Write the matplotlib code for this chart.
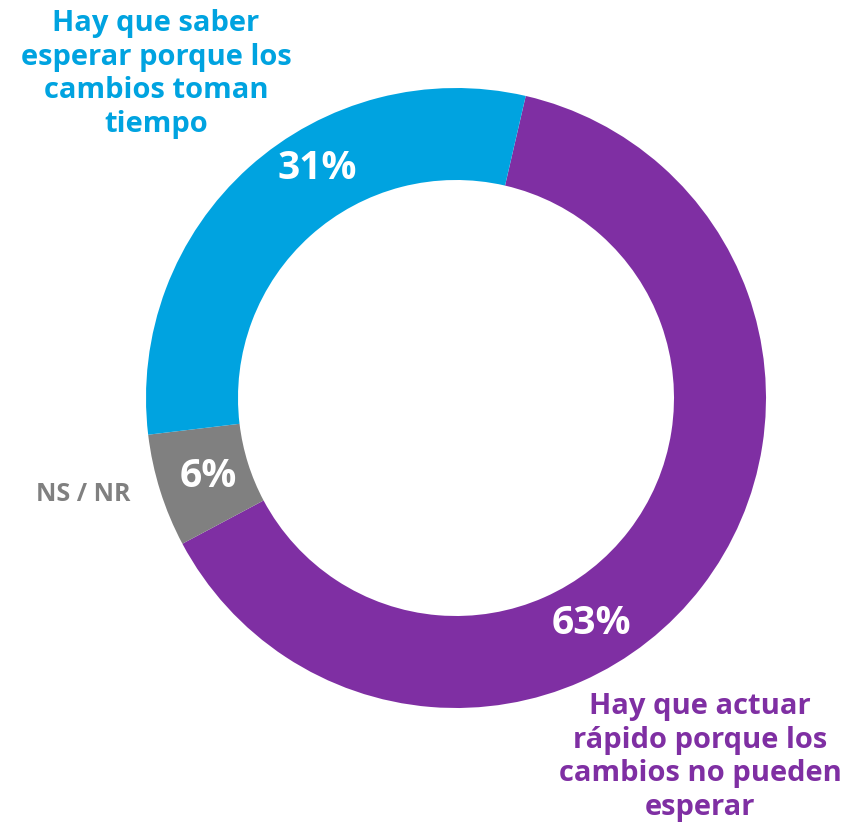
import matplotlib.pyplot as plt

# shares (clockwise from the top), estimated from the ring
labels = ['Hay que actuar\nrápido porque los\ncambios no pueden\nesperar', 'NS / NR',
          'Hay que saber\nesperar porque los\ncambios toman\ntiempo']
values = [63.6, 5.9, 30.5]
pct_labels = ['63%', '6%', '31%']
colors = ['#7F2FA3', '#808080', '#00A3E0']

plt.rcParams['font.family'] = ['Open Sans', 'DejaVu Sans']

fig = plt.figure(figsize=(8.61, 8.24), dpi=100)
ax = fig.add_axes([0, 0, 1, 1])

cx, cy, r, w = 456, 824 - 398, 310, 92
ax.pie(values, colors=colors, startangle=77, counterclock=False,
       center=(cx, cy), radius=r, frame=True,
       wedgeprops=dict(width=w, linewidth=0))
ax.set_xlim(0, 861)
ax.set_ylim(0, 824)
ax.set_aspect('equal')
ax.set_axis_off()

# percentage labels in the ring
ax.text(591, 824 - 623, pct_labels[0], color='white', fontsize=28, fontweight='bold', ha='center', va='center')
ax.text(208, 824 - 476, pct_labels[1], color='white', fontsize=28, fontweight='bold', ha='center', va='center')
ax.text(317, 824 - 168, pct_labels[2], color='white', fontsize=28, fontweight='bold', ha='center', va='center')

# category labels
ax.text(700, 824 - 757, labels[0], color=colors[0], fontsize=21, fontweight='bold',
        ha='center', va='center', linespacing=1.2)
ax.text(83, 824 - 494, labels[1], color=colors[1], fontsize=18, fontweight='bold',
        ha='center', va='center')
ax.text(156, 824 - 74, labels[2], color=colors[2], fontsize=21, fontweight='bold',
        ha='center', va='center', linespacing=1.2)

fig.savefig('out.png', dpi=100)
